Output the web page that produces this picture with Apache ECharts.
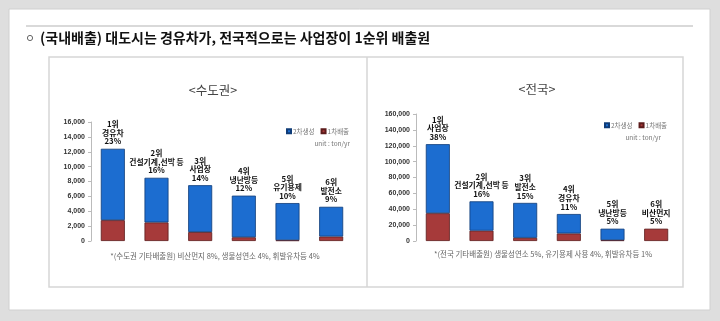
<!DOCTYPE html>
<html><head><meta charset="utf-8">
<script src="https://cdn.jsdelivr.net/npm/echarts@6/dist/echarts.min.js"></script>
<style>html,body{margin:0;padding:0;background:#dedede;}#c{width:720px;height:321px;}</style>
</head><body><div id="c"></div>
<script>
const mainTitle = '(국내배출) 대도시는 경유차가, 전국적으로는 사업장이 1순위 배출원';
const seriesNames = ['2차생성', '1차배출'];

const leftTitle = '<수도권>';
const leftRanks = ['1위', '2위', '3위', '4위', '5위', '6위'];
const leftCategories = ['경유차', '건설기계,선박 등', '사업장', '냉난방등', '유기용제', '발전소'];
const leftShares = ['23%', '16%', '14%', '12%', '10%', '9%'];
const leftPrimary = [2800, 2500, 1200, 500, 100, 600];
const leftSecondary = [9600, 6000, 6300, 5600, 5000, 4000];
const leftNote = '*(수도권 기타배출원) 비산먼지 8%, 생물성연소 4%, 휘발유차등 4%';

const rightTitle = '<전국>';
const rightRanks = ['1위', '2위', '3위', '4위', '5위', '6위'];
const rightCategories = ['사업장', '건설기계,선박 등', '발전소', '경유차', '냉난방등', '비산먼지'];
const rightShares = ['38%', '16%', '15%', '11%', '5%', '5%'];
const rightPrimary = [35000, 13000, 4000, 9500, 1000, 15500];
const rightSecondary = [87000, 37000, 44000, 24500, 14500, 0];
const rightNote = '*(전국 기타배출원) 생물성연소 5%, 유기용제 사용 4%, 휘발유차등 1%';

const unitText = 'unit : ton/yr';

const BLUE = '#1c6dd0', BLUE_B = '#0f3c78', RED = '#a63a3a', RED_B = '#5c1b1b';
const FONT = '"Noto Sans CJK KR", "Noto Sans", sans-serif';

function yAxisCfg(idx, max, interval) {
  return {
    type: 'value', gridIndex: idx, min: 0, max: max, interval: interval,
    axisLine: {show: true, lineStyle: {color: '#bbb', width: 1}},
    axisTick: {show: true, inside: false, length: 3, lineStyle: {color: '#bbb'}},
    splitLine: {show: false},
    axisLabel: {fontSize: 7, fontWeight: 'bold', color: '#333', fontFamily: 'Arial, "Liberation Sans", sans-serif', margin: 6,
      formatter: v => v.toLocaleString('en-US')}
  };
}
function xAxisCfg(idx, cats) {
  return {type: 'category', gridIndex: idx, data: cats, axisLine: {show: false}, axisTick: {show: false}, axisLabel: {show: false}};
}
function labelFmt(ranks, cats, shares) {
  return p => ranks[p.dataIndex] + '\n' + cats[p.dataIndex] + '\n' + shares[p.dataIndex];
}
function seriesPair(idx, prim, sec, ranks, cats, shares) {
  return [
    {name: '1차배출', type: 'bar', stack: 's' + idx, xAxisIndex: idx, yAxisIndex: idx, barWidth: '55%',
      data: prim.map(v => v === 0 ? {value: 0, itemStyle: {borderWidth: 0}} : v),
      itemStyle: {color: RED, borderColor: RED_B, borderWidth: 0.8}},
    {name: '2차생성', type: 'bar', stack: 's' + idx, xAxisIndex: idx, yAxisIndex: idx, barWidth: '55%',
      data: sec.map(v => v === 0 ? {value: 0, itemStyle: {borderWidth: 0}} : v),
      itemStyle: {color: BLUE, borderColor: BLUE_B, borderWidth: 0.8},
      label: {show: true, position: 'top', distance: 3, formatter: labelFmt(ranks, cats, shares),
        fontSize: 7.8, lineHeight: 8.6, fontWeight: 'bold', color: '#111', fontFamily: FONT, align: 'center'}}
  ];
}

const chart = echarts.init(document.getElementById('c'), null, {renderer: 'canvas'});
chart.setOption({
  animation: false,
  backgroundColor: '#dedede',
  graphic: [
    {type: 'rect', z: -10, shape: {x: 9, y: 9, width: 701, height: 301}, style: {fill: '#fff', stroke: '#d0d0d0', lineWidth: 1}},
    {type: 'line', z: -5, shape: {x1: 26, y1: 26, x2: 693, y2: 26}, style: {stroke: '#d9d9d9', lineWidth: 2}},
    {type: 'circle', shape: {cx: 30, cy: 38, r: 2.6}, style: {fill: '#fff', stroke: '#666', lineWidth: 1}},
    {type: 'text', x: 40, y: 38, style: {text: mainTitle, font: 'bold 14px ' + FONT, fill: '#111', verticalAlign: 'middle'}},
    {type: 'rect', z: -5, shape: {x: 49, y: 57, width: 634, height: 230}, style: {fill: 'none', stroke: '#d6d6d6', lineWidth: 1.5}},
    {type: 'line', z: -5, shape: {x1: 367, y1: 57, x2: 367, y2: 287}, style: {stroke: '#d6d6d6', lineWidth: 1.5}}
  ],
  title: [
    {text: leftTitle, left: 208, top: 79, textAlign: 'center', textStyle: {fontSize: 12.5, fontWeight: 'normal', color: '#444', fontFamily: FONT}},
    {text: rightTitle, left: 532, top: 78, textAlign: 'center', textStyle: {fontSize: 12.5, fontWeight: 'normal', color: '#444', fontFamily: FONT}},
    {text: leftNote, left: 210, top: 247, textAlign: 'center', textStyle: {fontSize: 7.5, fontWeight: 'normal', color: '#666', fontFamily: FONT}},
    {text: rightNote, left: 538, top: 245, textAlign: 'center', textStyle: {fontSize: 7.5, fontWeight: 'normal', color: '#666', fontFamily: FONT}},
    {text: unitText, left: 345, top: 135, textAlign: 'right', textStyle: {fontSize: 6.5, fontWeight: 'normal', color: '#777', fontFamily: FONT}},
    {text: unitText, left: 656, top: 129, textAlign: 'right', textStyle: {fontSize: 6.5, fontWeight: 'normal', color: '#777', fontFamily: FONT}}
  ],
  legend: [
    {data: seriesNames, left: 281, top: 123, itemWidth: 4, itemHeight: 4, itemGap: 6, icon: 'rect',
      textStyle: {fontSize: 6.5, color: '#777', fontFamily: FONT, padding: [0, 0, 0, -3]}},
    {data: seriesNames, left: 599, top: 117, itemWidth: 4, itemHeight: 4, itemGap: 6, icon: 'rect',
      textStyle: {fontSize: 6.5, color: '#777', fontFamily: FONT, padding: [0, 0, 0, -3]}}
  ],
  grid: [
    {left: 91, top: 122, width: 262, height: 119},
    {left: 416, top: 114, width: 262, height: 127}
  ],
  xAxis: [xAxisCfg(0, leftCategories), xAxisCfg(1, rightCategories)],
  yAxis: [yAxisCfg(0, 16000, 2000), yAxisCfg(1, 160000, 20000)],
  series: [
    ...seriesPair(0, leftPrimary, leftSecondary, leftRanks, leftCategories, leftShares),
    ...seriesPair(1, rightPrimary, rightSecondary, rightRanks, rightCategories, rightShares)
  ]
});
</script></body></html>
